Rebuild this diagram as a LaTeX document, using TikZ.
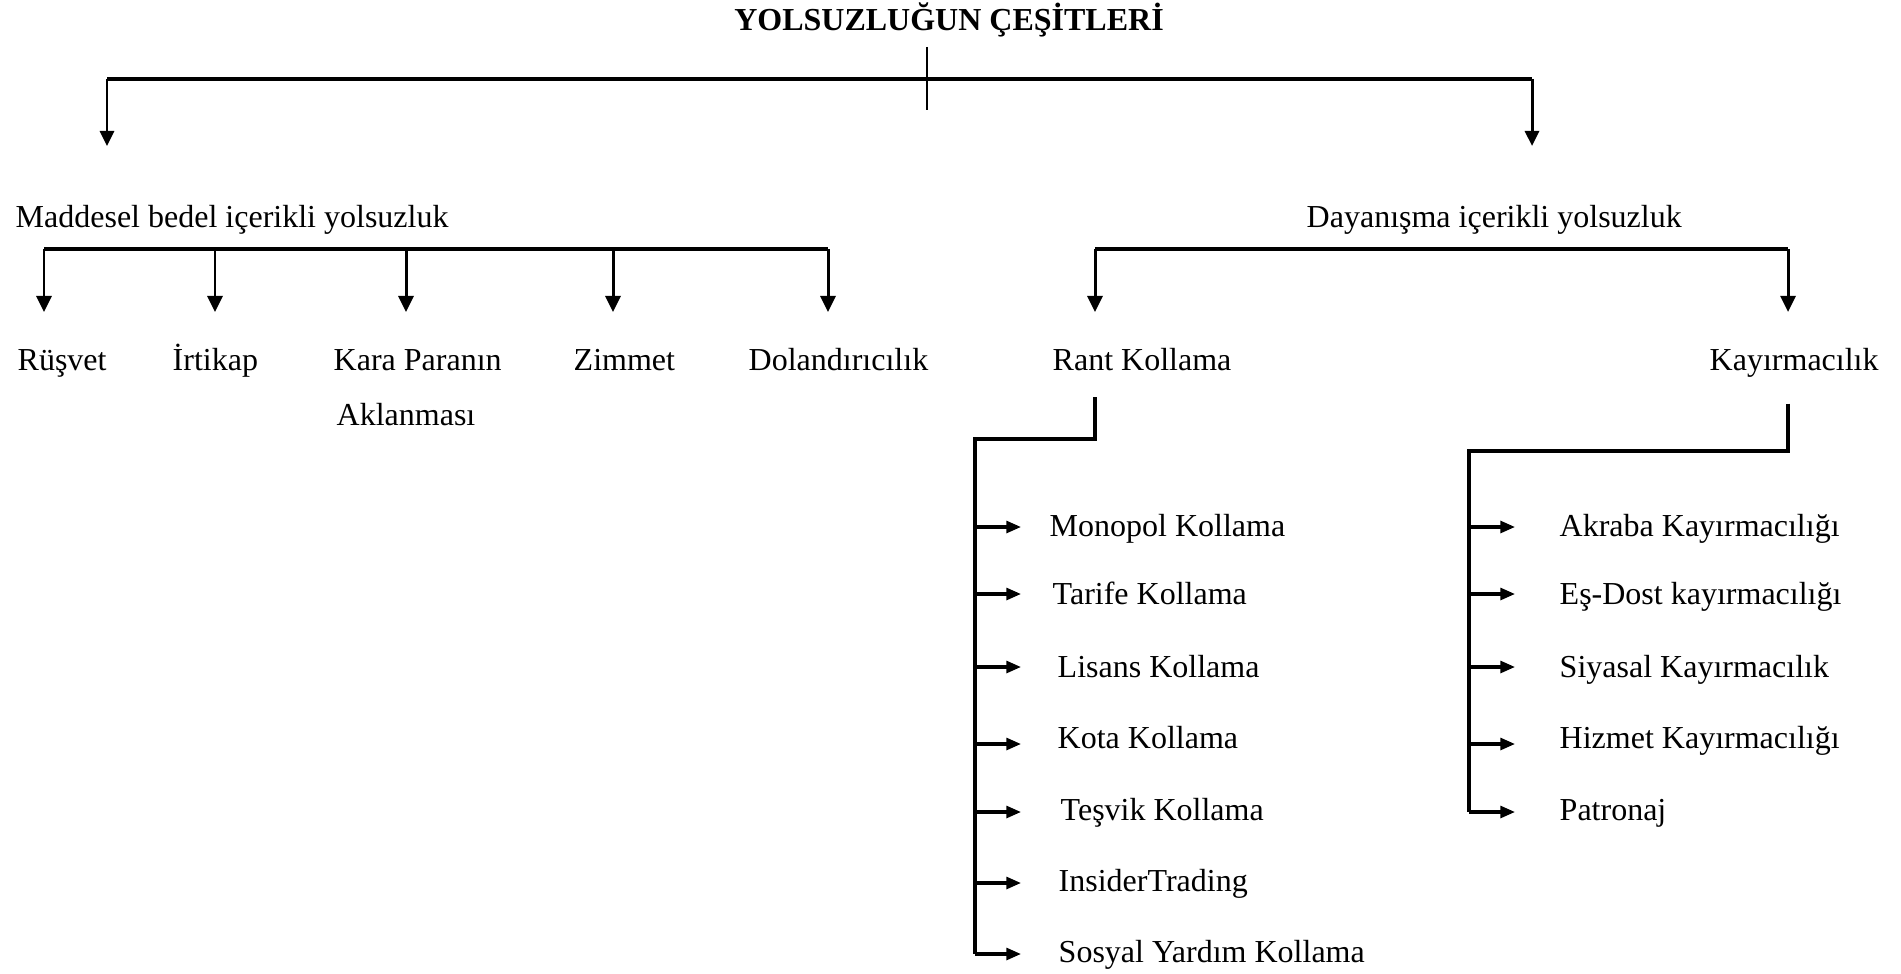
\documentclass[tikz,border=0pt]{standalone}
\usepackage{fontspec}
\setmainfont{Liberation Serif}
\usetikzlibrary{arrows.meta}
\tikzset{l/.style={font=\fontsize{9.1}{9.1}\selectfont, inner sep=0pt, anchor=base west}}
\tikzset{bar/.style={line width=1.1pt}}
\tikzset{a1/.style={-{Triangle[length=4.3pt,width=4pt]}, line width=0.85pt}}
\tikzset{a2/.style={-{Triangle[length=4.6pt,width=4.3pt]}, line width=0.85pt}}
\tikzset{a3/.style={-{Triangle[length=4.2pt,width=3.4pt]}, line width=0.9pt}}

\begin{document}
\begin{tikzpicture}[x=0.01cm, y=-0.01cm]
  \useasboundingbox (0,0) rectangle (1901,973);
  % title
  \node[l, anchor=base, font=\fontsize{9.1}{9.1}\selectfont\bfseries] (title) at (949,31) {YOLSUZLUĞUN ÇEŞİTLERİ};
  \coordinate (tt) at (927,47);
  \coordinate (tb) at (927,110);
  \coordinate (tl) at (107,79);
  \coordinate (tr) at (1532,79);
  \draw[line width=0.5pt] (tt) -- (tb);
  \draw[bar] (tl) -- (tr);
  \draw[a1] (tl) -- (tl |- 0,146);
  \draw[a1] (tr) -- (tr |- 0,146);

  % second level
  \node[l] (mad) at (15,228) {Maddesel bedel içerikli yolsuzluk};
  \node[l] (day) at (1306,228) {Dayanışma içerikli yolsuzluk};

  % maddesel branch
  \coordinate (ml) at (44,249);
  \coordinate (mr) at (828,249);
  \draw[bar] (ml) -- (mr);
  \foreach \x in {44,215,406,613,828}
    \draw[a2] (\x,249) -- (\x,312);
  \node[l] (rus) at (17,370) {Rüşvet};
  \node[l] (irt) at (172,370) {İrtikap};
  \node[l] (kara) at (333,370) {Kara Paranın};
  \node[l] (akl) at (336,425) {Aklanması};
  \node[l] (zim) at (573,370) {Zimmet};
  \node[l] (dol) at (748,370) {Dolandırıcılık};

  % dayanisma branch
  \coordinate (dl) at (1095,249);
  \coordinate (dr) at (1788,249);
  \draw[bar] (dl) -- (dr);
  \draw[a2] (dl) -- (dl |- 0,312);
  \draw[a2] (dr) -- (dr |- 0,312);
  \node[l] (rant) at (1052,370) {Rant Kollama};
  \node[l] (kay) at (1709,370) {Kayırmacılık};

  % rant kollama
  \coordinate (rv) at (975,439);
  \coordinate (rtip) at (1021,0);
  \draw[bar] (rant.south -| dl) ++(0,26) -- (dl |- rv) -- (rv) -- (rv |- 0,954);
  \foreach \n/\x/\y/\ya/\s in {1/1049/536/527/Monopol Kollama, 2/1052/604/594/Tarife Kollama,
      3/1057/677/667/Lisans Kollama, 4/1057/748/744/Kota Kollama, 5/1060/820/812/Teşvik Kollama,
      6/1058/891/883/InsiderTrading, 7/1058/962/954/Sosyal Yardım Kollama} {
    \node[l] (r\n) at (\x,\y) {\s};
    \draw[a3] (rv |- 0,\ya) -- (rtip |- 0,\ya);
  }

  % kayirmacilik
  \coordinate (kv) at (1469,451);
  \coordinate (ktip) at (1515,0);
  \draw[bar] (kay.south -| dr) ++(0,26) -- (dr |- kv) -- (kv) -- (kv |- 0,812);
  \foreach \n/\y/\ya/\s in {1/536/527/Akraba Kayırmacılığı, 2/604/594/Eş-Dost kayırmacılığı,
      3/677/667/Siyasal Kayırmacılık, 4/748/744/Hizmet Kayırmacılığı, 5/820/812/Patronaj} {
    \node[l] (k\n) at (1559,\y) {\s};
    \draw[a3] (kv |- 0,\ya) -- (ktip |- 0,\ya);
  }
\end{tikzpicture}
\end{document}
